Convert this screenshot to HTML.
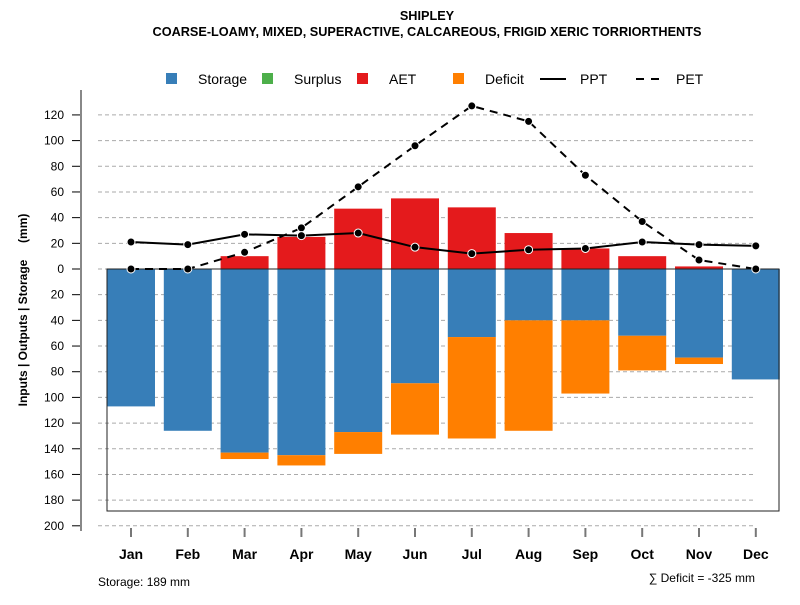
<!DOCTYPE html>
<html><head><meta charset="utf-8"><style>
body{margin:0;background:#fff;}
text{font-family:"Liberation Sans",sans-serif;}
</style></head><body>
<svg id="chart" width="800" height="600" xmlns="http://www.w3.org/2000/svg">
<text x="427" y="20" text-anchor="middle" font-size="12.7" font-weight="bold">SHIPLEY</text>
<text x="427" y="36" text-anchor="middle" font-size="12.7" font-weight="bold">COARSE-LOAMY, MIXED, SUPERACTIVE, CALCAREOUS, FRIGID XERIC TORRIORTHENTS</text>
<g font-size="14">
<rect x="166" y="73" width="11" height="11" fill="#377eb8"/>
<text x="198" y="84">Storage</text>
<rect x="262" y="73" width="11" height="11" fill="#4daf4a"/>
<text x="294" y="84">Surplus</text>
<rect x="357" y="73" width="11" height="11" fill="#e41a1c"/>
<text x="389" y="84">AET</text>
<rect x="453" y="73" width="11" height="11" fill="#ff7f00"/>
<text x="485" y="84">Deficit</text>
<line x1="540" y1="79" x2="566" y2="79" stroke="#000" stroke-width="2"/>
<text x="580" y="84">PPT</text>
<line x1="636" y1="79" x2="664" y2="79" stroke="#000" stroke-width="2" stroke-dasharray="8,7"/>
<text x="676" y="84">PET</text>
</g>
<g id="grid"></g><g id="bars"></g>
<rect x="107" y="269" width="672" height="242" fill="none" stroke="#222" stroke-width="1"/>
<g id="lines"></g><g id="axes"></g>
<text transform="translate(27,310) rotate(-90)" text-anchor="middle" font-size="12" font-weight="bold" xml:space="preserve">Inputs | Outputs | Storage     (mm)</text>
<text x="98" y="586" font-size="12">Storage: 189 mm</text>
<text x="755" y="582" text-anchor="end" font-size="12">∑ Deficit = -325 mm</text>
</svg>
<script>
const months=['Jan','Feb','Mar','Apr','May','Jun','Jul','Aug','Sep','Oct','Nov','Dec'];
const aet=[0,0,10,25,47,55,48,28,16,10,2,0];
const storage=[107,126,143,145,127,89,53,40,40,52,69,86];
const deficit=[0,0,5,8,17,40,79,86,57,27,5,0];
const ppt=[21,19,27,26,28,17,12,15,16,21,19,18];
const pet=[0,0,13,32,64,96,127,115,73,37,7,0];
const yTicks=[120,100,80,60,40,20,0,20,40,60,80,100,120,140,160,180,200];
const yTickVals=[120,100,80,60,40,20,0,-20,-40,-60,-80,-100,-120,-140,-160,-180,-200];
const NS='http://www.w3.org/2000/svg';
const y=v=>269-v*1.284;
const x=i=>131+i*56.8;
function mk(p,t,a){const e=document.createElementNS(NS,t);for(const k in a)e.setAttribute(k,a[k]);document.getElementById(p).appendChild(e);return e;}
yTickVals.forEach((v,i)=>{
 const g=mk('grid','line',{x1:98,x2:756,y1:y(v),y2:y(v),stroke:'#aaa','stroke-dasharray':'4,3'});
 
 
 const t=mk('axes','line',{x1:72,x2:81,y1:y(v),y2:y(v),stroke:'#000'});
 
 
 const l=mk('axes','text',{x:64,y:y(v)+4,'text-anchor':'end','font-size':12});
 l.textContent=yTicks[i];
 
 
});
const ax=mk('axes','line',{x1:81,x2:81,y1:90,y2:531,stroke:'#888','stroke-width':2});


months.forEach((m,i)=>{
 const w=48,x0=x(i)-w/2;
 if(aet[i]>0){const r=mk('bars','rect',{x:x0,y:y(aet[i]),width:w,height:y(0)-y(aet[i]),fill:'#e41a1c'});
 
 }
 const s=mk('bars','rect',{x:x0,y:y(0),width:w,height:y(-storage[i])-y(0),fill:'#377eb8'});
 
 
 if(deficit[i]>0){const d=mk('bars','rect',{x:x0,y:y(-storage[i]),width:w,height:y(-storage[i]-deficit[i])-y(-storage[i]),fill:'#ff7f00'});
 
 }
 const t=mk('axes','line',{x1:x(i),x2:x(i),y1:528,y2:537,stroke:'#777','stroke-width':2});
 
 
 const l=mk('axes','text',{x:x(i),y:559,'text-anchor':'middle','font-size':14,'font-weight':'bold'});
 l.textContent=m;
 
 
});
function series(arr,name,dash){
 const p=mk('lines','polyline',{points:arr.map((v,i)=>x(i)+','+y(v)).join(' '),fill:'none',stroke:'#000','stroke-width':2,'stroke-dasharray':dash});
 
 
 arr.forEach((v,i)=>{const c=mk('lines','circle',{cx:x(i),cy:y(v),r:4,fill:'#000',stroke:'#fff','stroke-width':1});
 
 });
}
series(pet,'pet','8,6');
series(ppt,'ppt','none');
</script>
</body></html>
